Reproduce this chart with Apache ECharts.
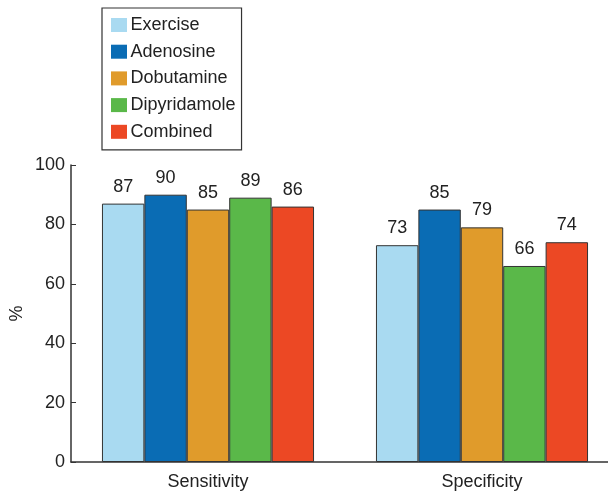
<!DOCTYPE html>
<html>
<head>
<meta charset="utf-8">
<script src="https://cdn.jsdelivr.net/npm/echarts@6/dist/echarts.min.js"></script>
<style>
  html, body { margin: 0; padding: 0; background: #fff; }
  #chart { width: 608px; height: 499px; }
</style>
</head>
<body>
<div id="chart"></div>
<script>
// Diagnostic accuracy of stress modalities
const categories = ['Sensitivity', 'Specificity'];
const seriesNames = ['Exercise', 'Adenosine', 'Dobutamine', 'Dipyridamole', 'Combined'];
const exercise = [87, 73];
const adenosine = [90, 85];
const dobutamine = [85, 79];
const dipyridamole = [89, 66];
const combined = [86, 74];
const yTicks = [0, 20, 40, 60, 80, 100];

const values = [exercise, adenosine, dobutamine, dipyridamole, combined];
const colors = ['#a9daf1', '#0a6cb4', '#e09b2b', '#5ab849', '#ec4824'];
const font = '"Liberation Sans", Arial, sans-serif';

const chart = echarts.init(document.getElementById('chart'), null, { renderer: 'canvas' });
chart.setOption({
  backgroundColor: '#fff',
  animation: false,
  textStyle: { fontFamily: font },
  legend: {
    orient: 'vertical',
    left: 102,
    top: 8,
    data: seriesNames,
    icon: 'rect',
    itemWidth: 16,
    itemHeight: 14,
    itemGap: 8.7,
    padding: [8, 6, 9, 9],
    borderColor: '#333',
    borderWidth: 1.2,
    itemStyle: { borderWidth: 0 },
    textStyle: { fontFamily: font, fontSize: 18, color: '#222', padding: [0, 0, 0, -1.5] }
  },
  // the second category runs a little past the right edge of the canvas
  grid: { left: 71, width: 548, top: 165, bottom: 37, containLabel: false, outerBoundsMode: 'none' },
  xAxis: {
    type: 'category',
    data: categories,
    axisLine: { lineStyle: { color: '#333', width: 1.5 } },
    axisTick: { inside: true, length: 5, lineStyle: { color: '#333' } },
    axisLabel: { fontFamily: font, fontSize: 18, color: '#222', margin: 11 }
  },
  yAxis: {
    type: 'value',
    min: yTicks[0],
    max: yTicks[yTicks.length - 1],
    interval: 20,
    name: '%',
    nameLocation: 'middle',
    nameGap: 45,
    nameMoveOverlap: false,
    nameRotate: 90,
    nameTextStyle: { fontFamily: font, fontSize: 18, color: '#222' },
    axisLine: { show: true, lineStyle: { color: '#333', width: 1.5 } },
    axisTick: { show: true, inside: true, length: 5, lineStyle: { color: '#333' } },
    splitLine: { show: false },
    axisLabel: { fontFamily: font, fontSize: 18, color: '#222', margin: 6 }
  },
  series: seriesNames.map((name, i) => ({
    name,
    type: 'bar',
    data: values[i],
    barGap: '0%',
    barCategoryGap: '22.6%',
    itemStyle: { color: colors[i], borderColor: '#333', borderWidth: 1 },
    label: {
      show: true,
      position: 'top',
      distance: 8,
      fontFamily: font,
      fontSize: 18,
      color: '#222'
    }
  }))
});
</script>
</body>
</html>
